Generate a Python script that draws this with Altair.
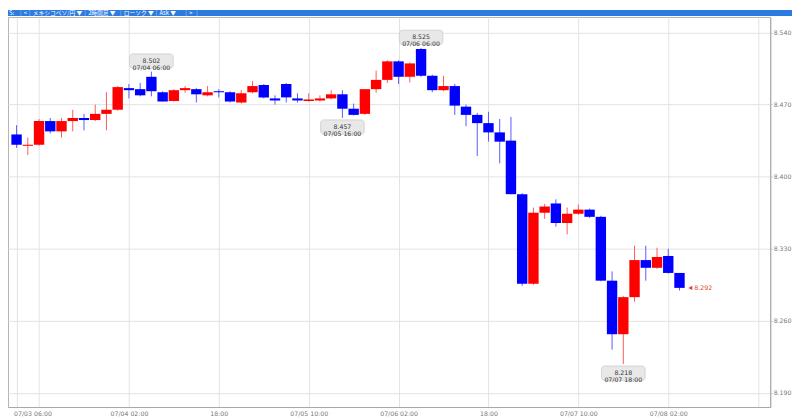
import json
import altair as alt
import pandas as pd

# ---- data (2-hour candles, MXN/JPY, from 2023-07-03 06:00) ----
start_time = "2023-07-03 06:00"
step_hours = 2
opens = [8.441, 8.430, 8.431, 8.454, 8.444, 8.454, 8.457, 8.455, 8.461, 8.465,
         8.486, 8.485, 8.497, 8.482, 8.4735, 8.484, 8.485, 8.479, 8.483, 8.482,
         8.472, 8.482, 8.489, 8.476, 8.490, 8.476, 8.4735, 8.474, 8.476, 8.480,
         8.466, 8.461, 8.485, 8.494, 8.512, 8.497, 8.524, 8.498, 8.484, 8.488,
         8.468, 8.460, 8.452, 8.443, 8.435, 8.383, 8.296, 8.365, 8.374, 8.355,
         8.364, 8.368, 8.361, 8.299, 8.247, 8.283, 8.319, 8.3115, 8.323, 8.3065]
highs = [8.450, 8.438, 8.456, 8.457, 8.457, 8.465, 8.461, 8.470, 8.482, 8.488,
         8.490, 8.491, 8.502, 8.483, 8.485, 8.488, 8.486, 8.488, 8.485, 8.483,
         8.484, 8.493, 8.490, 8.479, 8.491, 8.481, 8.481, 8.479, 8.484, 8.484,
         8.471, 8.485, 8.503, 8.513, 8.513, 8.511, 8.525, 8.499, 8.498, 8.490,
         8.470, 8.462, 8.463, 8.456, 8.458, 8.384, 8.370, 8.3735, 8.378, 8.370,
         8.373, 8.369, 8.362, 8.308, 8.284, 8.333, 8.333, 8.331, 8.330, 8.3065]
lows = [8.428, 8.421, 8.430, 8.442, 8.438, 8.444, 8.445, 8.454, 8.445, 8.464,
        8.476, 8.478, 8.478, 8.473, 8.473, 8.4815, 8.472, 8.478, 8.477, 8.472,
        8.471, 8.481, 8.476, 8.470, 8.472, 8.472, 8.473, 8.473, 8.475, 8.457,
        8.4595, 8.460, 8.4815, 8.491, 8.490, 8.4915, 8.497, 8.482, 8.483, 8.460,
        8.449, 8.420, 8.434, 8.413, 8.383, 8.294, 8.295, 8.359, 8.3515, 8.344,
        8.363, 8.360, 8.2985, 8.232, 8.218, 8.2785, 8.299, 8.3105, 8.306, 8.2895]
closes = [8.431, 8.431, 8.454, 8.444, 8.454, 8.457, 8.455, 8.461, 8.465, 8.487,
          8.484, 8.479, 8.483, 8.473, 8.484, 8.486, 8.480, 8.482, 8.482, 8.473,
          8.481, 8.488, 8.477, 8.474, 8.477, 8.474, 8.475, 8.476, 8.480, 8.466,
          8.460, 8.485, 8.494, 8.512, 8.497, 8.510, 8.498, 8.484, 8.488, 8.469,
          8.460, 8.452, 8.443, 8.434, 8.383, 8.296, 8.365, 8.371, 8.355, 8.364,
          8.368, 8.361, 8.299, 8.247, 8.283, 8.319, 8.3115, 8.322, 8.3065, 8.292]

tick_hours = [0, 4, 20, 36, 52, 68, 84, 100, 116, 132]
tick_labels = ["07/03 06:00", "", "07/04 02:00", "18:00", "07/05 10:00",
               "07/06 02:00", "18:00", "07/07 10:00", "07/08 02:00", ""]
y_ticks = [8.19, 8.26, 8.33, 8.40, 8.47, 8.54]

annot_index = [12, 29, 36, 54]
annot_kind = ["high", "low", "high", "low"]

toolbar_items = ["S:", "<", "メキシコペソ/円 ▼", "2時間足 ▼", "ローソク ▼", "Ask ▼", ">"]

# ---- tables ----
n = len(opens)
times = pd.date_range(start_time, periods=n, freq=f"{step_hours}h")
hours = [step_hours * i for i in range(n)]
df = pd.DataFrame({
    "h": hours, "open": opens, "high": highs, "low": lows, "close": closes,
})
df["lo"] = df[["open", "close"]].min(axis=1)
df["hi"] = df[["open", "close"]].max(axis=1)

ann_rows = []
for idx, kind in zip(annot_index, annot_kind):
    price = highs[idx] if kind == "high" else lows[idx]
    ann_rows.append({"h": hours[idx], "price": price, "kind": kind,
                     "label": f"{price:.3f}\n{times[idx].strftime('%m/%d %H:%M')}"})
ann = pd.DataFrame(ann_rows)
last = pd.DataFrame({"h": [hours[-1]], "price": [closes[-1]], "label": [f"{closes[-1]:.3f}"]})

# ---- scales ----
xs = alt.Scale(domain=[-0.6435, 133.27], nice=False, zero=False)
ys = alt.Scale(domain=[8.17629, 8.55506], nice=False, zero=False)
FONT = "DejaVu Sans"
FS = 6.3

x_axis = alt.Axis(values=tick_hours,
                  labelExpr=f"{json.dumps(tick_labels)}[indexof({json.dumps(tick_hours)}, datum.value)]",
                  grid=True, gridColor="#e3e3e3", domain=True, domainColor="#a8a8a8",
                  ticks=False, tickSize=0, labelFontSize=FS, labelFont=FONT, labelColor="#777777",
                  labelPadding=3.2,
                  labelAlign={"expr": f"datum.value == {tick_hours[0]} ? 'left' : 'center'"},
                  labelOffset={"expr": f"datum.value == {tick_hours[0]} ? -3 : 0"},
                  labelOverlap=False, title=None)
y_axis = alt.Axis(orient="right", values=y_ticks, format=".3f", grid=True, gridColor="#e3e3e3",
                  domain=True, domainColor="#a8a8a8", ticks=True, tickSize=2, tickColor="#c8c8c8",
                  labelFontSize=FS, labelFont=FONT, labelColor="#777777", labelPadding=1, title=None)

up = "datum.close >= datum.open"
base = alt.Chart(df)

wicks = base.mark_rule(strokeWidth=1).encode(
    x=alt.X("h:Q", scale=xs, axis=x_axis),
    y=alt.Y("low:Q", scale=ys, axis=y_axis),
    y2="high:Q",
    color=alt.condition(up, alt.value("#ff5a5a"), alt.value("#5a5aff")),
)
bodies = base.mark_bar(size=10.5).encode(
    x=alt.X("h:Q", scale=xs),
    y=alt.Y("lo:Q", scale=ys),
    y2="hi:Q",
    color=alt.condition(up, alt.value("#ff0000"), alt.value("#0000ff")),
)

def ann_layer(kind, offset):
    d = alt.Chart(ann).transform_filter(alt.datum.kind == kind)
    box = d.mark_rect(width=44, height=14.5, cornerRadius=3, fill="#e8e8e8",
                      stroke="#cccccc", strokeWidth=0.8, yOffset=offset).encode(
        x=alt.X("h:Q", scale=xs), y=alt.Y("price:Q", scale=ys))
    txt = d.mark_text(fontSize=FS, font=FONT, color="#333333", lineBreak="\n",
                      lineHeight=6.8, baseline="middle", align="center", yOffset=offset).encode(
        x=alt.X("h:Q", scale=xs), y=alt.Y("price:Q", scale=ys),
        text="label:N")
    return [box, txt]

last_tri = alt.Chart(last).mark_point(shape="triangle-left", filled=True, size=20,
                                      color="#e53935", opacity=1, xOffset=11).encode(
    x=alt.X("h:Q", scale=xs), y=alt.Y("price:Q", scale=ys))
last_txt = alt.Chart(last).mark_text(fontSize=FS, font=FONT, color="#e53935", align="left",
                                     baseline="middle", dx=15).encode(
    x=alt.X("h:Q", scale=xs), y=alt.Y("price:Q", scale=ys), text="label:N")

# toolbar (decoration above the plot)
toolbar_bg = alt.Chart(pd.DataFrame({"a": [0]})).mark_rect(color="#2b7be0").encode(
    x=alt.value(0), x2=alt.value(792), y=alt.value(-7), y2=alt.value(-1))
toolbar_x = [1, 16, 25, 81, 117, 153, 183]
sep_x = [13, 22, 78, 114, 150, 180, 191]
tb_layers = [toolbar_bg]
for sx in sep_x:
    tb_layers.append(alt.Chart(pd.DataFrame({"a": [0]})).mark_rule(color="#6fa8f0", strokeWidth=0.8).encode(
        x=alt.value(sx), y=alt.value(-7), y2=alt.value(-1)))
for label, tx in zip(toolbar_items, toolbar_x):
    tb_layers.append(alt.Chart(pd.DataFrame({"t": [label]})).mark_text(
        fontSize=5.8, font="Noto Sans CJK JP", color="#ffffff", align="left", baseline="middle").encode(
        x=alt.value(tx), y=alt.value(-3.8), text="t:N"))

layers = [wicks, bodies] + ann_layer("high", -10.7) + ann_layer("low", 9.2) + [last_tri, last_txt] + tb_layers

chart = alt.layer(*layers).properties(
    width=770, height=394,
    autosize=alt.AutoSizeParams(type="none"),
    padding={"left": 0, "top": 7, "right": 22, "bottom": 11},
    background="#ffffff",
).configure_view(stroke="#b4b4b4", strokeWidth=1)

chart.save("out.html", embed_options={"renderer": "svg", "actions": False})
